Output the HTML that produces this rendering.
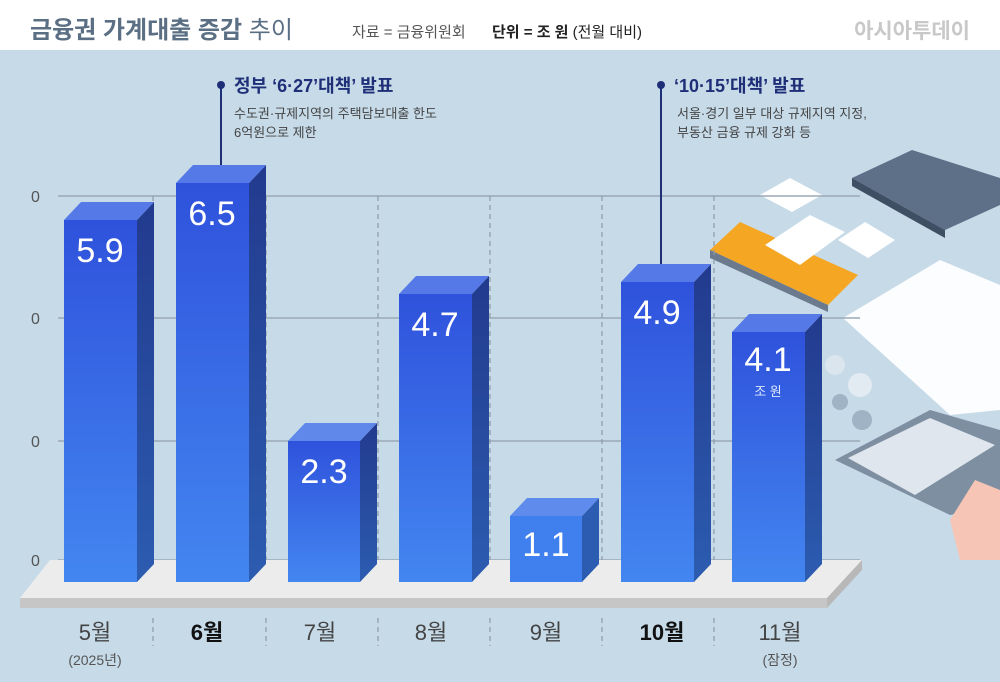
<!DOCTYPE html>
<html><head><meta charset="utf-8"><style>
body{margin:0;width:1000px;height:677px;overflow:hidden;background:#c6dae8;font-family:"Liberation Sans","Noto Sans CJK KR",sans-serif}
</style></head><body>
<svg width="1000" height="677" viewBox="0 0 1000 677" xmlns="http://www.w3.org/2000/svg" font-family="Liberation Sans, Noto Sans CJK KR, sans-serif">
<defs>
<linearGradient id="g" x1="0" y1="0" x2="0" y2="1"><stop offset="0" stop-color="#2f52dc"/><stop offset="1" stop-color="#4386f0"/></linearGradient>
<linearGradient id="s" x1="0" y1="0" x2="0" y2="1"><stop offset="0" stop-color="#223a8e"/><stop offset="1" stop-color="#2c5cb0"/></linearGradient>
</defs>
<rect x="0" y="0" width="1000" height="50" fill="#fff"/>
<rect x="0" y="50" width="1000" height="627" fill="#c6dae8"/>
<text x="30" y="38" font-size="24" font-weight="bold" fill="#5a6f84">금융권 가계대출 증감 <tspan font-weight="normal">추이</tspan></text>
<text x="352" y="37" font-size="15" fill="#555">자료 = 금융위원회</text>
<text x="492" y="37" font-size="15" fill="#222"><tspan font-weight="bold">단위 = 조 원</tspan> (전월 대비)</text>
<text x="970" y="38" font-size="21" font-weight="bold" fill="#c8c8c8" text-anchor="end">아시아투데이</text>
<!-- illustration -->
<g>
<polygon points="852,178 912,150 1000,178 1000,205 945,230" fill="#5d7088"/>
<polygon points="852,178 945,230 945,238 852,186" fill="#3e4e63"/>
<polygon points="760,195 790,178 822,195 792,212" fill="#fff"/>
<polygon points="710,250 740,222 858,275 828,305" fill="#f5a623"/>
<polygon points="710,250 828,305 828,312 710,258" fill="#6b7a8d"/>
<polygon points="765,245 810,215 845,232 800,265" fill="#fff"/>
<polygon points="838,240 865,222 895,240 868,258" fill="#fff"/>
<polygon points="843,318 940,260 1000,285 1000,410 950,415" fill="#fbfdff"/>
<polygon points="835,460 930,410 1000,430 1000,505 950,515" fill="#7f8fa2"/>
<polygon points="848,458 930,418 995,445 915,495" fill="#dfe6ee"/>
<polygon points="950,520 975,480 1000,490 1000,560 960,560" fill="#f6c5b5"/>
<circle cx="860" cy="385" r="12" fill="#e2ebf2"/><circle cx="835" cy="365" r="10" fill="#dbe5ee"/><circle cx="840" cy="402" r="8" fill="#9fb3c5"/><circle cx="862" cy="420" r="10" fill="#9fb3c5"/>
</g>
<!-- gridlines -->
<g stroke="#9aa9b6" stroke-width="1.5">
<line x1="58" y1="196" x2="860" y2="196"/><line x1="58" y1="318" x2="860" y2="318"/><line x1="58" y1="441" x2="860" y2="441"/><line x1="58" y1="560" x2="860" y2="560"/>
</g>
<g stroke="#8e9aa6" stroke-dasharray="5,4" stroke-width="1.2">
<line x1="153" y1="196" x2="153" y2="560"/><line x1="266" y1="196" x2="266" y2="560"/><line x1="378" y1="196" x2="378" y2="560"/><line x1="490" y1="196" x2="490" y2="560"/><line x1="602" y1="196" x2="602" y2="560"/><line x1="714" y1="196" x2="714" y2="560"/>
</g>
<g font-size="16" fill="#555"><text x="31" y="202">0</text><text x="31" y="324">0</text><text x="31" y="447">0</text><text x="31" y="566">0</text></g>
<!-- platform -->
<polygon points="50,560 862,560 827,598 20,598" fill="#ececec"/>
<rect x="20" y="598" width="807" height="10" fill="#c6c6c6"/>
<polygon points="827,598 862,560 862,570 827,608" fill="#b8b8b8"/>
<!-- annotations -->
<line x1="221" y1="85" x2="221" y2="172" stroke="#1e2f78" stroke-width="2"/><circle cx="221" cy="85" r="4" fill="#1e2f78"/>
<text x="234" y="92" font-size="18" font-weight="bold" fill="#1e2f78">정부 ‘6·27’대책’ 발표</text>
<text x="234" y="118" font-size="13" fill="#444">수도권·규제지역의 주택담보대출 한도</text>
<text x="234" y="137" font-size="13" fill="#444">6억원으로 제한</text>
<line x1="661" y1="85" x2="661" y2="270" stroke="#1e2f78" stroke-width="2"/><circle cx="661" cy="85" r="4" fill="#1e2f78"/>
<text x="674" y="92" font-size="18" font-weight="bold" fill="#1e2f78">‘10·15’대책’ 발표</text>
<text x="677" y="118" font-size="13" fill="#444">서울·경기 일부 대상 규제지역 지정,</text>
<text x="677" y="137" font-size="13" fill="#444">부동산 금융 규제 강화 등</text>
<!-- bars -->
<g>
<g><rect x="64" y="220" width="73" height="362" fill="url(#g)"/><polygon points="137,220 154,202 154,564 137,582" fill="url(#s)"/><polygon points="64,220 81,202 154,202 137,220" fill="#5579e6"/><text x="100" y="262" font-size="34" fill="#fff" text-anchor="middle">5.9</text></g>
<g><rect x="176" y="183" width="73" height="399" fill="url(#g)"/><polygon points="249,183 266,165 266,564 249,582" fill="url(#s)"/><polygon points="176,183 193,165 266,165 249,183" fill="#5579e6"/><text x="212" y="225" font-size="34" fill="#fff" text-anchor="middle">6.5</text></g>
<g><rect x="288" y="441" width="72" height="141" fill="url(#g)"/><polygon points="360,441 377,423 377,564 360,582" fill="url(#s)"/><polygon points="288,441 305,423 377,423 360,441" fill="#5f88ea"/><text x="324" y="483" font-size="34" fill="#fff" text-anchor="middle">2.3</text></g>
<g><rect x="399" y="294" width="73" height="288" fill="url(#g)"/><polygon points="472,294 489,276 489,564 472,582" fill="url(#s)"/><polygon points="399,294 416,276 489,276 472,294" fill="#5579e6"/><text x="435" y="336" font-size="34" fill="#fff" text-anchor="middle">4.7</text></g>
<g><rect x="510" y="516" width="72" height="66" fill="#3f80ee"/><polygon points="582,516 599,498 599,564 582,582" fill="#2b5cb2"/><polygon points="510,516 527,498 599,498 582,516" fill="#5f8cec"/><text x="546" y="556" font-size="34" fill="#fff" text-anchor="middle">1.1</text></g>
<g><rect x="621" y="282" width="73" height="300" fill="url(#g)"/><polygon points="694,282 711,264 711,564 694,582" fill="url(#s)"/><polygon points="621,282 638,264 711,264 694,282" fill="#5579e6"/><text x="657" y="324" font-size="34" fill="#fff" text-anchor="middle">4.9</text></g>
<g><rect x="732" y="332" width="73" height="250" fill="url(#g)"/><polygon points="805,332 822,314 822,564 805,582" fill="url(#s)"/><polygon points="732,332 749,314 822,314 805,332" fill="#5579e6"/><text x="768" y="371" font-size="34" fill="#fff" text-anchor="middle">4.1</text><text x="768" y="396" font-size="13" fill="#dfe8ff" text-anchor="middle">조 원</text></g>
</g>
<!-- x labels -->
<g stroke="#8e9aa6" stroke-dasharray="5,4" stroke-width="1.2">
<line x1="153" y1="618" x2="153" y2="646"/><line x1="266" y1="618" x2="266" y2="646"/><line x1="378" y1="618" x2="378" y2="646"/><line x1="490" y1="618" x2="490" y2="646"/><line x1="602" y1="618" x2="602" y2="646"/><line x1="714" y1="618" x2="714" y2="646"/>
</g>
<g font-size="22" text-anchor="middle" fill="#444">
<text x="95" y="640">5월</text><text x="207" y="640" font-weight="bold" fill="#111">6월</text><text x="320" y="640">7월</text><text x="431" y="640">8월</text><text x="546" y="640">9월</text><text x="662" y="640" font-weight="bold" fill="#111">10월</text><text x="780" y="640">11월</text>
</g>
<text x="95" y="665" font-size="14" fill="#555" text-anchor="middle">(2025년)</text>
<text x="780" y="665" font-size="14" fill="#555" text-anchor="middle">(잠정)</text>
</svg>
</body></html>
